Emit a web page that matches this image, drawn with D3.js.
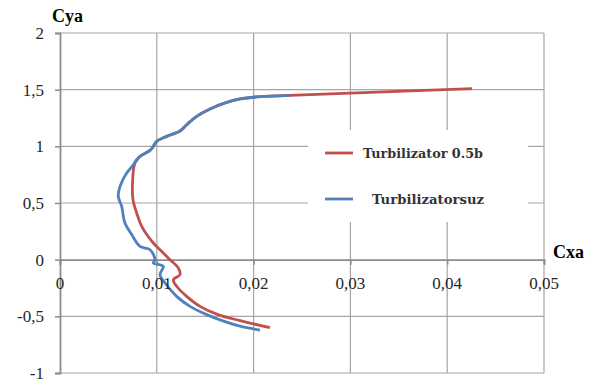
<!DOCTYPE html>
<html>
<head>
<meta charset="utf-8">
<script src="https://cdn.jsdelivr.net/npm/d3@7"></script>
<style>
  body { margin: 0; background: #fff; }
  svg { display: block; }
</style>
</head>
<body>
<svg width="603" height="385"></svg>
<script>
// Cxa, Cya
var seriesNames = ["Turbilizator 0.5b", "Turbilizatorsuz"];

var sharedTop = [
  [0.02376, 1.450], [0.02032, 1.436], [0.01860, 1.418], [0.01722, 1.388],
  [0.01550, 1.330], [0.01412, 1.265], [0.01309, 1.191], [0.01240, 1.135],
  [0.01102, 1.088], [0.00999, 1.044], [0.00964, 1.000], [0.00930, 0.964],
  [0.00826, 0.911]
];

var redPoints = [[0.04256, 1.509]].concat(sharedTop).concat([
  [0.00775, 0.856], [0.00751, 0.706], [0.00754, 0.529], [0.00792, 0.412],
  [0.00844, 0.294], [0.00964, 0.147], [0.01033, 0.088], [0.01136, 0.000],
  [0.01222, -0.073], [0.01240, -0.132], [0.01171, -0.176], [0.01205, -0.235],
  [0.01309, -0.324], [0.01446, -0.412], [0.01632, -0.485], [0.01860, -0.538],
  [0.02169, -0.600]
]);

var bluePoints = sharedTop.concat([
  [0.00741, 0.818], [0.00689, 0.765], [0.00620, 0.647], [0.00602, 0.559],
  [0.00637, 0.470], [0.00671, 0.324], [0.00741, 0.221], [0.00826, 0.117],
  [0.00930, 0.088], [0.00981, 0.000], [0.00964, -0.029], [0.01067, -0.059],
  [0.01033, -0.132], [0.01085, -0.206], [0.01205, -0.324], [0.01343, -0.412],
  [0.01515, -0.485], [0.01705, -0.547], [0.01860, -0.587], [0.02066, -0.622]
]);

var xTicks = [0, 0.01, 0.02, 0.03, 0.04, 0.05];
var yTicks = [-1, -0.5, 0, 0.5, 1, 1.5, 2];

var svg = d3.select("svg");
var fmt = function (v) { return String(v).replace(".", ","); };

var x = d3.scaleLinear().domain([0, 0.05]).range([60, 544]);
var y = d3.scaleLinear().domain([-1, 2]).range([373, 33]);

var grid = svg.append("g").attr("class", "grid");
grid.selectAll(".vg").data(xTicks.slice(1)).enter().append("line")
  .attr("x1", d => x(d)).attr("x2", d => x(d))
  .attr("y1", y(2)).attr("y2", y(-1))
  .attr("stroke", "#a6a6a6").attr("stroke-width", 1.2);
grid.selectAll(".hg").data(yTicks.filter(d => d !== 0)).enter().append("line")
  .attr("x1", x(0)).attr("x2", x(0.05))
  .attr("y1", d => y(d)).attr("y2", d => y(d))
  .attr("stroke", "#a6a6a6").attr("stroke-width", 1.2);

// axes through origin
var xAxis = d3.axisBottom(x).tickValues(xTicks).tickSize(5).tickFormat("");
var yAxis = d3.axisLeft(y).tickValues(yTicks).tickSize(5).tickFormat("");
var gx = svg.append("g").attr("transform", "translate(0," + y(0) + ")").call(xAxis);
var gy = svg.append("g").attr("transform", "translate(" + x(0) + ",0)").call(yAxis);
[gx, gy].forEach(function (g) {
  g.selectAll("path").attr("stroke", "#8c8c8c").attr("stroke-width", 1.8);
  g.selectAll("line").attr("stroke", "#8c8c8c").attr("stroke-width", 1.5);
});

// legend box hides the grid under it
svg.append("rect").attr("x", 308).attr("y", 130).attr("width", 220).attr("height", 92)
  .attr("fill", "#fff");

var line = d3.line().x(d => x(d[0])).y(d => y(d[1])).curve(d3.curveCatmullRom);
var colors = ["#c0504d", "#4f81bd"];

svg.append("path").datum(redPoints).attr("d", line)
  .attr("fill", "none").attr("stroke", colors[0]).attr("stroke-width", 2.8);
svg.append("path").datum(bluePoints).attr("d", line)
  .attr("fill", "none").attr("stroke", colors[1]).attr("stroke-width", 2.8);

// tick labels
svg.append("g").selectAll("text").data(xTicks).enter().append("text")
  .attr("x", d => x(d)).attr("y", 289)
  .attr("text-anchor", "middle")
  .attr("font-family", "Liberation Serif").attr("font-size", 17)
  .attr("fill", "#262626")
  .text(fmt);
svg.append("g").selectAll("text").data(yTicks).enter().append("text")
  .attr("x", 44).attr("y", d => y(d) + 6)
  .attr("text-anchor", "end")
  .attr("font-family", "Liberation Serif").attr("font-size", 17)
  .attr("fill", "#262626")
  .text(fmt);

svg.append("text").attr("x", 52).attr("y", 22)
  .attr("font-family", "Liberation Serif").attr("font-size", 18).attr("font-weight", "bold")
  .text("Cya");
svg.append("text").attr("x", 553).attr("y", 258)
  .attr("font-family", "Liberation Serif").attr("font-size", 18).attr("font-weight", "bold")
  .text("Cxa");

// legend
var legend = svg.append("g");
var legY = [153, 199];
var legX = [363, 372];
var legW = [120, 112];
seriesNames.forEach(function (name, i) {
  legend.append("line")
    .attr("x1", 325).attr("x2", 353).attr("y1", legY[i]).attr("y2", legY[i])
    .attr("stroke", colors[i]).attr("stroke-width", 2.8);
  legend.append("text")
    .attr("x", legX[i]).attr("y", legY[i] + 5)
    .attr("font-family", "DejaVu Serif").attr("font-size", 12.5)
    .attr("font-weight", "bold")
    .attr("textLength", legW[i]).attr("lengthAdjust", "spacingAndGlyphs")
    .attr("fill", "#333")
    .text(name);
});
</script>
</body>
</html>
